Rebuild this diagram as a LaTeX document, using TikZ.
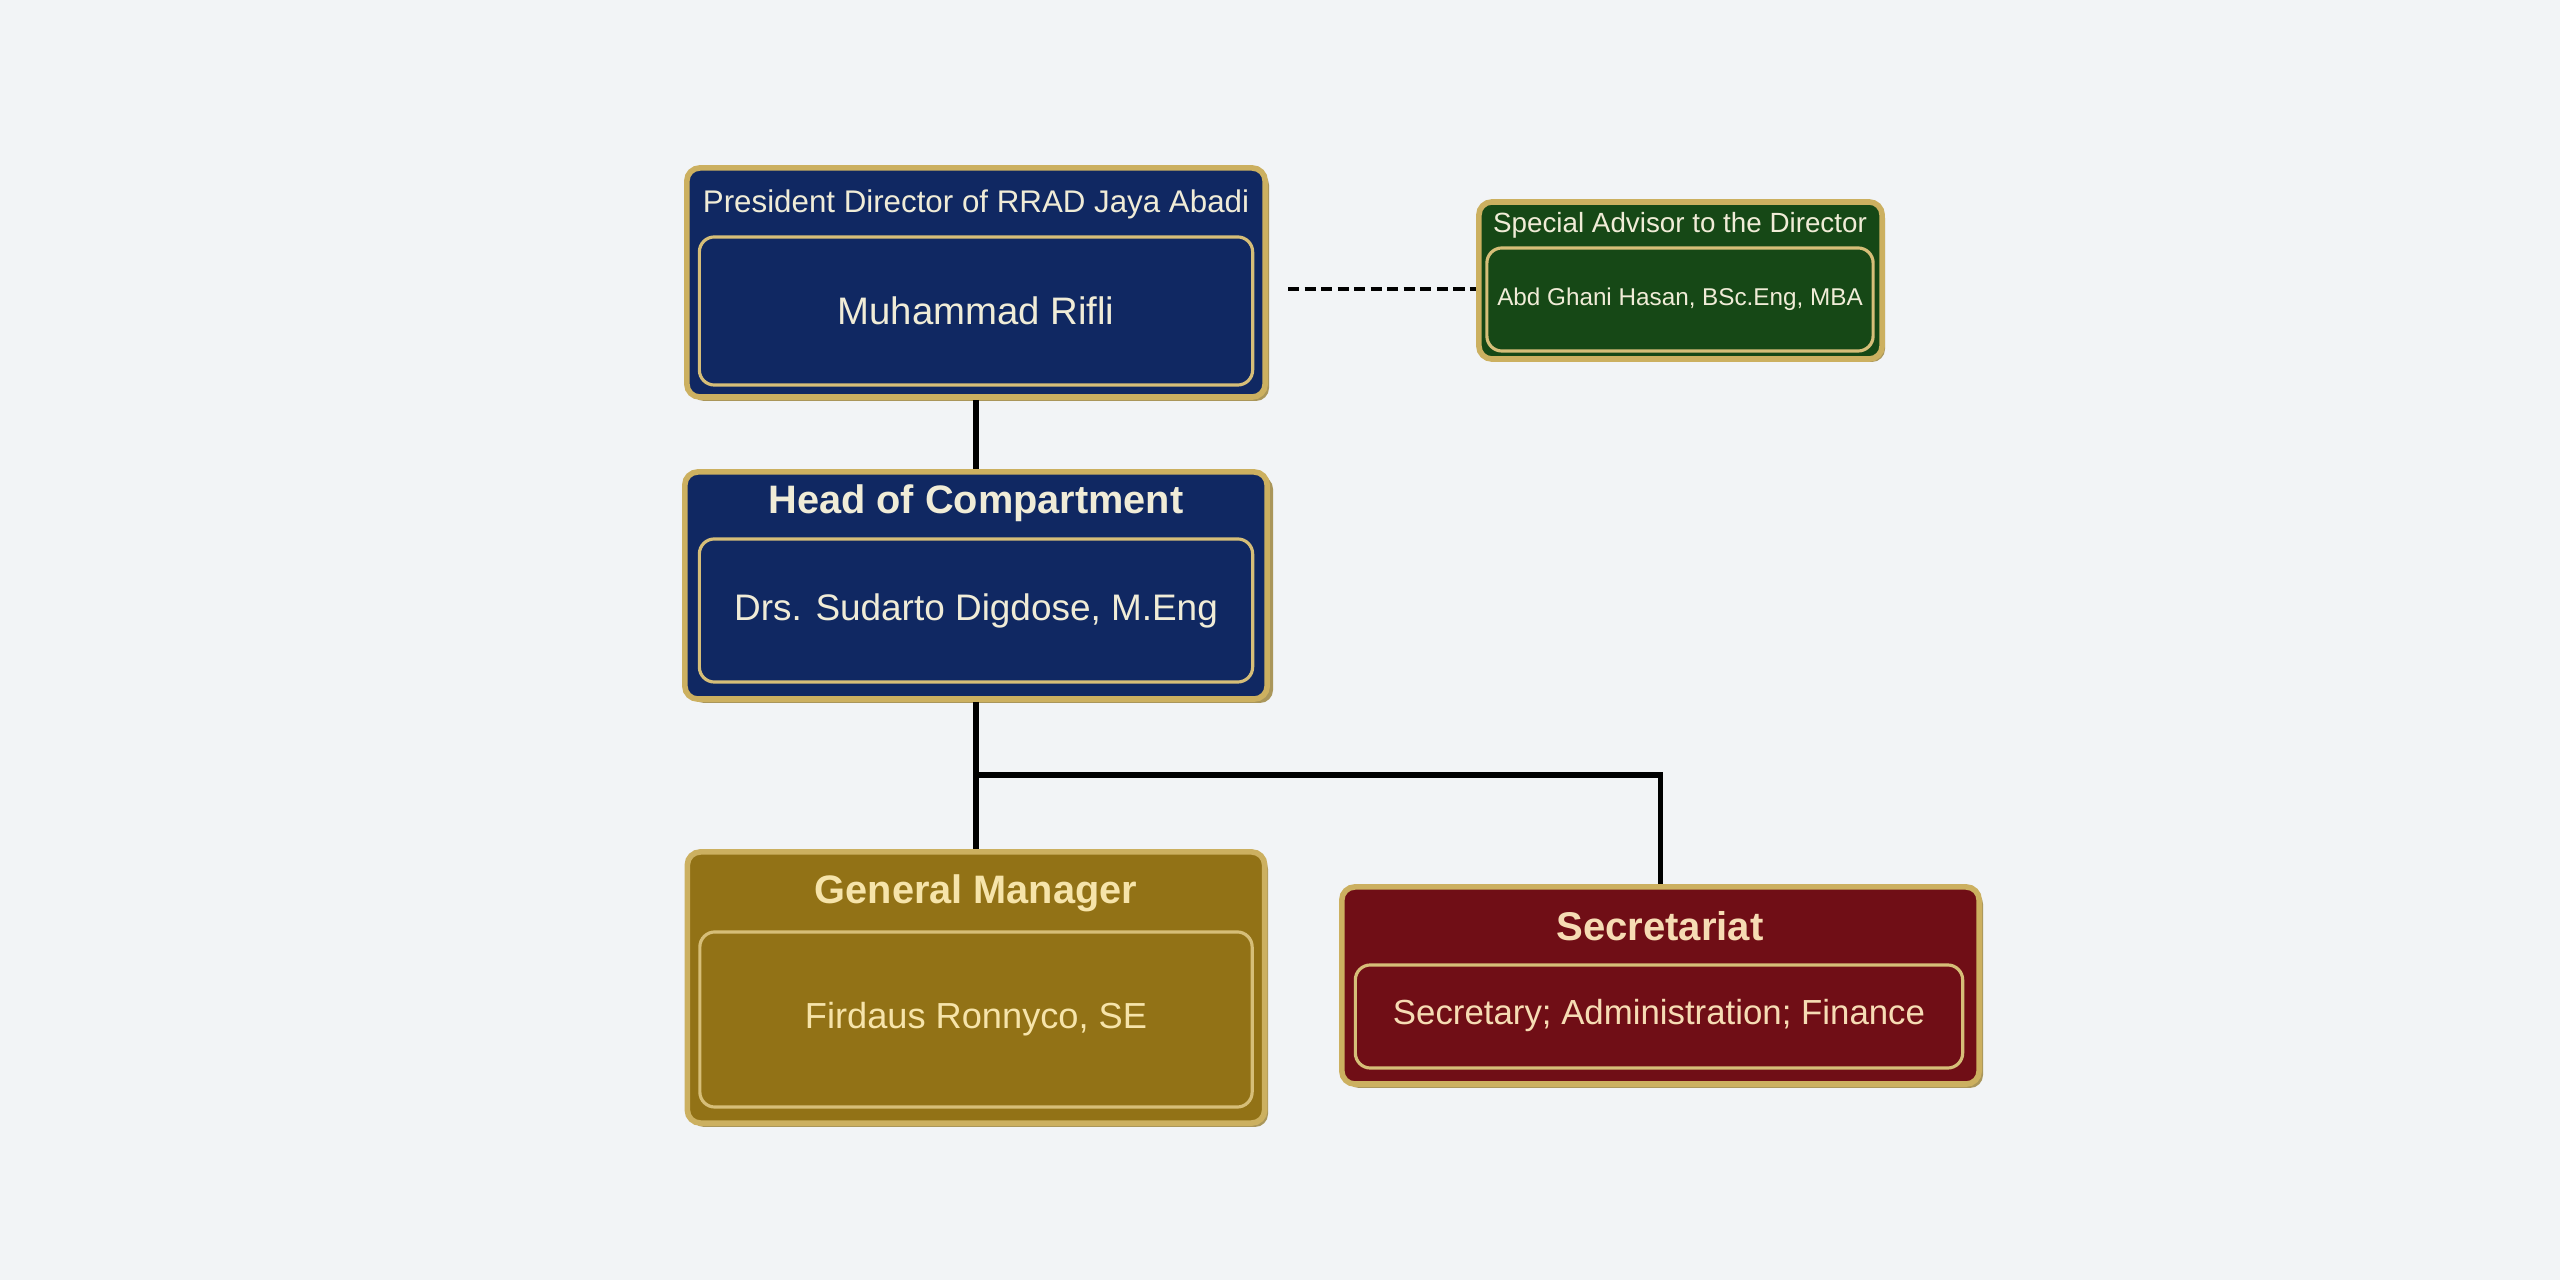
\documentclass[tikz,border=0pt]{standalone}
\usepackage{fontspec}
\setmainfont{Liberation Sans}
\begin{document}
\begin{tikzpicture}[x=0.01cm,y=-0.01cm]
\definecolor{bg}{RGB}{242,244,246}
\definecolor{navy}{RGB}{16,40,98}
\definecolor{forest}{RGB}{22,72,22}
\definecolor{ochre}{RGB}{146,114,22}
\definecolor{maroon}{RGB}{112,14,22}
\definecolor{goldedge}{RGB}{204,176,96}
\definecolor{goldline}{RGB}{214,190,120}
\definecolor{shadowc}{RGB}{170,150,90}
\definecolor{cream}{RGB}{240,236,215}
\definecolor{creamgold}{RGB}{246,228,170}
\definecolor{creamred}{RGB}{246,220,180}
\tikzset{
  outerbox/.style={draw=goldedge, line width=1.6pt, rounded corners=0.13cm, inner sep=0pt},
  innerbox/.style={draw=goldline, line width=0.9pt, rounded corners=0.15cm, inner sep=0pt},
  conn/.style={draw=black, line width=1.5pt},
  dashconn/.style={draw=black, line width=1.3pt, dash pattern=on 3.2pt off 1.5pt},
  txt/.style={inner sep=0pt, anchor=center}
}
\fill[bg] (0,0) rectangle (2560,1280);
\useasboundingbox (0,0) rectangle (2560,1280);

% President
\fill[shadowc,rounded corners=0.13cm] (691,172) rectangle (1269,401);
\node[outerbox, fill=navy, minimum width=5.78cm, minimum height=2.29cm] (pres) at (976,282.5) {};
\node[innerbox, minimum width=5.53cm, minimum height=1.48cm] (presin) at (976,311) {};
\node[txt, text=cream, font=\fontsize{8.9pt}{10pt}\selectfont] (prest) at (976,204) {President Director of RRAD Jaya Abadi};
\node[txt, text=cream, font=\fontsize{10.9pt}{12pt}\selectfont] (presn) at (976,311) {Muhammad Rifli};

% Advisor
\fill[shadowc,rounded corners=0.13cm] (1482,205) rectangle (1885,362);
\node[outerbox, fill=forest, minimum width=4.03cm, minimum height=1.57cm] (adv) at (1680.5,280.5) {};
\node[innerbox, minimum width=3.86cm, minimum height=1.03cm] (advin) at (1680,299.5) {};
\node[txt, text=cream, font=\fontsize{7.9pt}{9pt}\selectfont] (advt) at (1680,225) {Special Advisor to the Director};
\node[txt, text=cream, font=\fontsize{6.9pt}{8pt}\selectfont] (advn) at (1680,299.5) {Abd Ghani Hasan, BSc.Eng, MBA};

% Head
\fill[shadowc,rounded corners=0.13cm] (691,476) rectangle (1273,703);
\node[outerbox, fill=navy, minimum width=5.82cm, minimum height=2.27cm] (head) at (976,585.5) {};
\node[innerbox, minimum width=5.53cm, minimum height=1.43cm] (headin) at (976,610.5) {};
\node[txt, text=cream, font=\fontsize{11.3pt}{13pt}\selectfont\bfseries] (headt) at (976,503) {Head of Compartment};
\node[txt, text=cream, font=\fontsize{10.5pt}{12pt}\selectfont] (headn) at (976,611) {Drs. Sudarto Digdose, M.Eng};

% General Manager
\fill[shadowc,rounded corners=0.13cm] (691,856) rectangle (1268,1127);
\node[outerbox, fill=ochre, minimum width=5.77cm, minimum height=2.71cm] (gm) at (976,987.5) {};
\node[innerbox, minimum width=5.52cm, minimum height=1.75cm] (gmin) at (976,1019.5) {};
\node[txt, text=creamgold, font=\fontsize{11.3pt}{13pt}\selectfont\bfseries] (gmt) at (976,893) {General Manager};
\node[txt, text=creamgold, font=\fontsize{10.3pt}{12pt}\selectfont] (gmn) at (976,1019) {Firdaus Ronnyco, SE};

% Secretariat
\fill[shadowc,rounded corners=0.13cm] (1346,891) rectangle (1983,1088);
\node[outerbox, fill=maroon, minimum width=6.37cm, minimum height=1.97cm] (sec) at (1660.5,985.5) {};
\node[innerbox, minimum width=6.07cm, minimum height=1.03cm] (secin) at (1659,1016.5) {};
\node[txt, text=creamred, font=\fontsize{11.4pt}{13pt}\selectfont\bfseries] (sect) at (1660,926) {Secretariat};
\node[txt, text=creamred, font=\fontsize{9.9pt}{11pt}\selectfont] (secn) at (1659,1016) {Secretary; Administration; Finance};

% Connectors
\coordinate (dstart) at (1288,289);
\coordinate (br) at (976,775);
\draw[dashconn] (dstart) -- (dstart -| adv.west);
\draw[conn] (pres.south) -- (head.north);
\draw[conn] (head.south) -- (gm.north);
\draw[conn] (br) -| (sec.north);
\end{tikzpicture}
\end{document}
